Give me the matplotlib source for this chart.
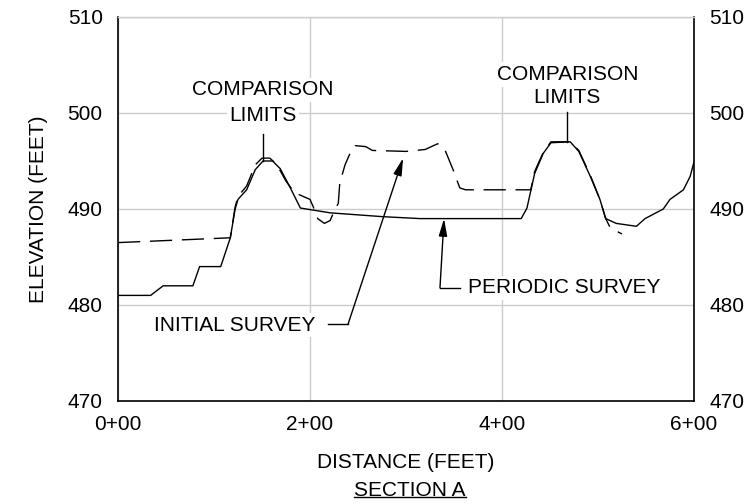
import matplotlib
matplotlib.use("Agg")
import matplotlib.pyplot as plt
from matplotlib.lines import Line2D

plt.rcParams['font.family'] = ['Liberation Sans', 'DejaVu Sans']

# periodic survey (solid)
periodic_x = [0, 34, 47, 78, 85, 107, 112, 117, 122, 125, 134, 143, 151, 161, 169, 179, 190,
              221, 276, 315, 420, 426, 434, 443, 451, 471, 480, 492, 502, 508, 519, 540, 549,
              568, 575, 589, 596, 600]
periodic_y = [481, 481, 482, 482, 484, 484, 485.5, 487, 490, 491, 492, 494.1, 495, 495, 494.2, 492.3, 490.1,
              489.6, 489.2, 489, 489, 490.1, 493.7, 495.8, 496.9, 497, 496, 493.4, 491, 489, 488.5, 488.2, 489,
              490, 491, 492, 493.4, 494.9]

# initial survey (dashed)
initial_x = [0, 117, 122, 125, 134, 143, 150, 158, 165, 175, 184, 200, 203.5, 208, 215, 221, 224,
             229.5, 231, 236.5, 243, 247, 258, 265, 300, 320, 333, 340, 349, 356, 362, 430, 432,
             434, 443, 451, 471, 480, 492, 502, 508, 513, 525]
initial_y = [486.5, 487, 490.2, 491.3, 492.4, 494.6, 495.3, 495.3, 494.7, 492.9, 491.7, 491, 490.2, 489, 488.5, 488.8, 489.5,
             490.6, 492.7, 494.6, 496.1, 496.6, 496.5, 496.1, 496, 496.2, 496.8, 496.3, 494.1, 492.2, 492, 492, 493,
             493.9, 495.9, 497, 497, 496.1, 493.5, 491, 489, 488, 487.4]

x_ticks = [0, 200, 400, 600]
x_tick_labels = ['0+00', '2+00', '4+00', '6+00']
y_ticks = [470, 480, 490, 500, 510]

fig = plt.figure(figsize=(7.55, 5.04), dpi=100)
ax = fig.add_axes([118 / 755, 1 - 401 / 504, 576 / 755, 384 / 504])

ax.plot(periodic_x, periodic_y, color='black', lw=1.0, zorder=3)
ax.plot(initial_x, initial_y, color='black', lw=1.0, linestyle=(0, (16, 7)), zorder=3)

ax.set_xlim(0, 600)
ax.set_ylim(470, 510)
ax.set_xticks(x_ticks)
ax.set_xticklabels(x_tick_labels)
ax.set_yticks(y_ticks)
ax.tick_params(length=0, labelsize=15, labelleft=True, labelright=True, pad=10)
ax.tick_params(axis='y', pad=11)
ax.grid(True, color='#cccccc', lw=1.0)
ax.set_axisbelow(True)
for side in ['left', 'right', 'bottom']:
    ax.spines[side].set_linewidth(1.2)
ax.spines['top'].set_color('#cccccc')
ax.spines['top'].set_linewidth(1.0)

fs = 15
box = dict(facecolor='white', edgecolor='none', pad=2)

# comparison limits
ax.plot([151, 151], [495, 497.8], color='black', lw=1.0, zorder=3)
ax.text(151, 502.4, 'COMPARISON', ha='center', va='center', fontsize=fs, bbox=box, zorder=4)
ax.text(151, 499.7, 'LIMITS', ha='center', va='center', fontsize=fs, bbox=box, zorder=4)
ax.plot([468, 468], [497, 500.1], color='black', lw=1.0, zorder=3)
ax.text(468, 504.0, 'COMPARISON', ha='center', va='center', fontsize=fs, bbox=box, zorder=4)
ax.text(468, 501.6, 'LIMITS', ha='center', va='center', fontsize=fs, bbox=box, zorder=4)

# leaders
arrow = dict(arrowstyle='-|>,head_length=0.7,head_width=0.17', mutation_scale=15,
             color='black', lw=1.0, shrinkA=0, shrinkB=0)
ax.text(122, 477.9, 'INITIAL SURVEY', ha='center', va='center', fontsize=fs, bbox=box, zorder=4)
ax.plot([219, 239.6], [478.0, 478.0], color='black', lw=1.0, zorder=3)
ax.annotate('', xy=(297, 495.3), xytext=(239.6, 478.0), arrowprops=arrow, zorder=3)

ax.text(364.5, 481.8, 'PERIODIC SURVEY', ha='left', va='center', fontsize=fs, bbox=box, zorder=4)
ax.plot([335.4, 356.3], [481.8, 481.8], color='black', lw=1.0, zorder=3)
ax.annotate('', xy=(339.6, 489.0), xytext=(335.4, 481.8), arrowprops=arrow, zorder=3)

ax.set_ylabel('ELEVATION (FEET)', fontsize=fs, labelpad=14)
fig.text(406 / 755, 1 - 463 / 504, 'DISTANCE (FEET)', ha='center', va='center', fontsize=fs)
sec = fig.text(410 / 755, 1 - 490 / 504, 'SECTION A', ha='center', va='center', fontsize=fs)

# underline SECTION A
fig.canvas.draw()
bb = sec.get_window_extent().transformed(fig.transFigure.inverted())
fig.add_artist(Line2D([bb.x0, bb.x1], [bb.y0 + 0.004, bb.y0 + 0.004], color='black', lw=1.0,
                      transform=fig.transFigure))

fig.savefig('out.png', dpi=100)
